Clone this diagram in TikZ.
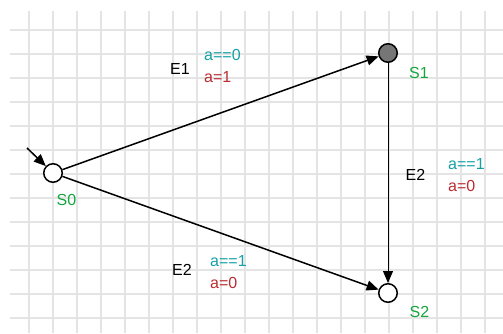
\documentclass[tikz,border=0pt]{standalone}
\usepackage{fontspec}
\setmainfont{Liberation Sans}
\usetikzlibrary{arrows.meta,positioning}
\definecolor{FSMgrid}{RGB}{228,228,228}
\definecolor{FSMteal}{RGB}{20,160,165}
\definecolor{FSMred}{RGB}{185,45,50}
\definecolor{FSMgreen}{RGB}{20,165,60}
\definecolor{FSMfill}{RGB}{118,118,118}
\newcommand{\fsmfont}{\fontsize{16}{22}\selectfont}
\tikzstyle{stnode}   = [circle, draw, line width=1.5pt, minimum size=18.5pt,
                        inner sep=0pt, fill=white]
\tikzstyle{stactive} = [stnode, fill=FSMfill]
\tikzstyle{sname}    = [text=FSMgreen, inner sep=0pt]
\tikzstyle{ename}    = [inner sep=0pt]
\tikzstyle{guard}    = [align=left, anchor=west, inner sep=0pt]
\tikzstyle{trans}    = [line width=1.5pt, -{Triangle[length=12pt,width=10pt]}]

\begin{document}
\begin{tikzpicture}[x=1pt, y=-1pt, font=\fsmfont]
  \useasboundingbox (0,0) rectangle (503,333);
  % grid
  \foreach \i in {0,...,19}
    \draw[FSMgrid, line width=1.4pt] ({29+24*\i},11) -- ({29+24*\i},333);
  \foreach \j in {0,...,12}
    \draw[FSMgrid, line width=1.4pt] (10,{30+24*\j}) -- (503,{30+24*\j});

  % states
  \node[stnode]   (s0) at (53,173)  {};
  \node[stactive] (s1) at (388,53)  {};
  \node[stnode]   (s2) at (388,293) {};
  \node[sname] (n0) at (66.5,200) {S0};
  \node[sname] (n1) at (419,73)   {S1};
  \node[sname] (n2) at (419.5,312) {S2};
  \coordinate (init) at (27,148);

  % transitions
  \draw[trans] (init) -- (s0);
  \draw[trans] (s0) -- (s1);
  \draw[trans] (s0) -- (s2);
  \draw[trans, line width=1pt] (s1) -- (s2);

  % labels
  \node[ename] (e01) at (180,68.5) {E1};
  \node[guard] (g01) at (204,66)
    {{\color{FSMteal}a==0}\\{\color{FSMred}a=1}};
  \node[ename] (e12) at (415.5,175) {E2};
  \node[guard] (g12) at (448,175.5)
    {{\color{FSMteal}a==1}\\{\color{FSMred}a=0}};
  \node[ename] (e02) at (182,270) {E2};
  \node[guard] (g02) at (210,272.5)
    {{\color{FSMteal}a==1}\\{\color{FSMred}a=0}};
\end{tikzpicture}
\end{document}
